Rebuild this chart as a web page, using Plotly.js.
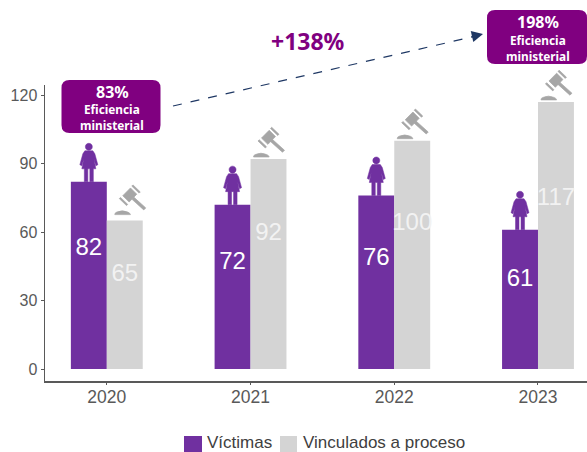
<!DOCTYPE html>
<html><head><meta charset="utf-8">
<script src="https://cdn.plot.ly/plotly-3.0.1.min.js"></script>
<style>html,body{margin:0;padding:0;background:#fff;overflow:hidden}#c{width:587px;height:452px}</style></head>
<body><div id="c"></div>
<script>
var years = [2020, 2021, 2022, 2023];
var victimas = [82, 72, 76, 61];
var vinculados = [65, 92, 100, 117];
var victimasLabelY = [52.5, 46.5, 48, 39];
var vinculadosLabelY = [41, 59, 63.5, 74.5];
var tickVals = [0, 30, 60, 90, 120];
var seriesNames = ['Víctimas', 'Vinculados a proceso'];
var PURPLE = '#7030a0', GRAY = '#d4d4d4', BOX = '#800080', NAVY = '#1f3864', ICON = '#a6a6a6';
var W = 587, H = 452, L = 45, R = 0, T = 85, B = 71;
var OFF = 0.125;
var xRange = [2019.57, 2023.341], yRange = [-5.25, 124.4];
var gavelNudgeX = [0, -5, -5, -5], gavelNudgeY = [0, -4, -4, -4];

var womanPath = 'M-3.5,35 C-3.5,37 -2,38.5 0,38.5 C2,38.5 3.5,37 3.5,35 C3.5,33 2,31.5 0,31.5 C-2,31.5 -3.5,33 -3.5,35 Z ' +
  'M-4,31 L4,31 L6,28 L9,17 L7,16 L5,23 L7,13 L4.5,13 L4.5,0 L1,0 L1,13 L-1,13 L-1,0 L-4.5,0 L-4.5,13 L-7,13 L-5,23 L-7,16 L-9,17 L-6,28 Z';
var gavelPath = 'M-2,24.9 L4.4,18.6 L12,26.4 L5.7,32.7 Z ' +
  'M-5.5,22 L1.8,15 L3,16.2 L-4.3,23.2 Z ' +
  'M8.2,35.7 L15.5,28.7 L14.3,27.5 L7,34.5 Z ' +
  'M7,21.5 L9,23.5 L21,12.7 L19,10.7 Z ' +
  'M-10,6 L5.7,6 Q5,8 3,8.5 Q-2.5,11 -8,8.5 Q-10,8 -10,6 Z';

function pxX(px) { return (px - L) / (W - L - R); }
function pxY(px) { return (H - B - px) / (H - T - B); }
function dataX(v) { return (v - xRange[0]) / (xRange[1] - xRange[0]); }
function dataY(v) { return (v - yRange[0]) / (yRange[1] - yRange[0]); }
function rrect(w, h, r) {
  var a = w / 2, b = h / 2;
  return 'M' + (-a + r) + ',' + b + ' L' + (a - r) + ',' + b + ' Q' + a + ',' + b + ' ' + a + ',' + (b - r) +
    ' L' + a + ',' + (-b + r) + ' Q' + a + ',' + (-b) + ' ' + (a - r) + ',' + (-b) +
    ' L' + (-a + r) + ',' + (-b) + ' Q' + (-a) + ',' + (-b) + ' ' + (-a) + ',' + (-b + r) +
    ' L' + (-a) + ',' + (b - r) + ' Q' + (-a) + ',' + b + ' ' + (-a + r) + ',' + b + ' Z';
}
function pixelShape(x, y, path, color, stroke) {
  return {type: 'path', xref: 'paper', yref: 'paper', xsizemode: 'pixel', ysizemode: 'pixel',
    xanchor: x, yanchor: y, path: path, fillcolor: color, line: {width: stroke || 0, color: color}, layer: 'above'};
}
var pw = W - L - R, ph = H - T - B;
var shapes = [];
years.forEach(function (yr, i) {
  shapes.push(pixelShape(dataX(yr - OFF), dataY(victimas[i]), womanPath, PURPLE, 0.5));
  shapes.push(pixelShape(dataX(yr + OFF) + gavelNudgeX[i] / pw, dataY(vinculados[i]) + gavelNudgeY[i] / ph, gavelPath, ICON, 0.7));
});
shapes.push(pixelShape(pxX(111), pxY(106.5), rrect(99, 53, 8), BOX));
shapes.push(pixelShape(pxX(537), pxY(37), rrect(100, 54, 8), BOX));
shapes.push({type: 'line', xref: 'paper', yref: 'paper', x0: pxX(173), y0: pxY(106), x1: pxX(474), y1: pxY(36.5),
  line: {color: NAVY, width: 1.2, dash: 'dash'}});
shapes.push({type: 'rect', xref: 'paper', yref: 'paper', x0: pxX(184), x1: pxX(202), y0: pxY(452), y1: pxY(436), fillcolor: PURPLE, line: {width: 0}});
shapes.push({type: 'rect', xref: 'paper', yref: 'paper', x0: pxX(280), x1: pxX(297), y0: pxY(452), y1: pxY(436), fillcolor: GRAY, line: {width: 0}});

function paperText(text, x, y, size, color, bold, family, anchor) {
  return {xref: 'paper', yref: 'paper', x: pxX(x), y: pxY(y), text: bold ? '<b>' + text + '</b>' : text, showarrow: false,
    xanchor: anchor || 'center', yanchor: 'middle', align: 'center', font: {size: size, color: color, family: family}};
}
var boxFont = '"Noto Sans", sans-serif', armFont = '"Liberation Sans", Arial, sans-serif';
var annotations = [
  paperText('+138%', 308, 41, 23, BOX, true, boxFont),
  paperText('83%', 112, 92, 16, '#fff', true, boxFont),
  paperText('Eficiencia', 112, 109, 11.8, '#fff', true, boxFont),
  paperText('ministerial', 112, 124.5, 11.8, '#fff', true, boxFont),
  paperText('198%', 538, 22, 16, '#fff', true, boxFont),
  paperText('Eficiencia', 538, 40, 11.8, '#fff', true, boxFont),
  paperText('ministerial', 538, 56, 11.8, '#fff', true, boxFont),
  paperText(seriesNames[0], 205, 442.5, 17, '#404040', false, armFont, 'left'),
  paperText(seriesNames[1], 301, 442.5, 17, '#404040', false, armFont, 'left'),
  {xref: 'paper', yref: 'paper', x: pxX(483), y: pxY(34), axref: 'paper', ayref: 'paper', ax: pxX(470), ay: pxY(37),
   text: '', showarrow: true, arrowhead: 2, arrowsize: 1.5, arrowwidth: 1.5, arrowcolor: NAVY}
];

var data = [
  {type: 'bar', name: seriesNames[0], x: years, y: victimas, marker: {color: PURPLE}, hoverinfo: 'x+y'},
  {type: 'bar', name: seriesNames[1], x: years, y: vinculados, marker: {color: GRAY}, hoverinfo: 'x+y'},
  {type: 'scatter', mode: 'text', x: years.map(function (y) { return y - OFF; }), y: victimasLabelY,
   text: victimas.map(String), textposition: 'middle center', textfont: {size: 24, color: '#fff', family: armFont}, hoverinfo: 'skip'},
  {type: 'scatter', mode: 'text', x: years.map(function (y) { return y + OFF; }), y: vinculadosLabelY,
   text: vinculados.map(String), textposition: 'middle center', textfont: {size: 24, color: '#f2f2f2', family: armFont}, hoverinfo: 'skip', cliponaxis: false}
];
var layout = {
  width: W, height: H, margin: {l: L, r: R, t: T, b: B, pad: 0},
  paper_bgcolor: '#fff', plot_bgcolor: '#fff', showlegend: false,
  barmode: 'group', bargap: 0.5, bargroupgap: 0,
  font: {family: armFont},
  xaxis: {type: 'linear', range: xRange, tickvals: years, ticktext: years.map(String),
    showgrid: false, zeroline: false, showline: true, linecolor: '#595959', linewidth: 1.5, ticks: 'outside', ticklen: 2, tickcolor: '#595959',
    ticklabelstandoff: -3, tickfont: {size: 17.5, color: '#595959'}},
  yaxis: {range: yRange, tickvals: tickVals, showgrid: false, zeroline: false, showline: true, linecolor: '#595959', linewidth: 1.5,
    ticks: 'outside', ticklen: 3, tickcolor: '#595959', tickfont: {size: 16, color: '#595959'}},
  shapes: shapes, annotations: annotations
};
Plotly.newPlot('c', data, layout, {displayModeBar: false, staticPlot: true});
</script></body></html>
